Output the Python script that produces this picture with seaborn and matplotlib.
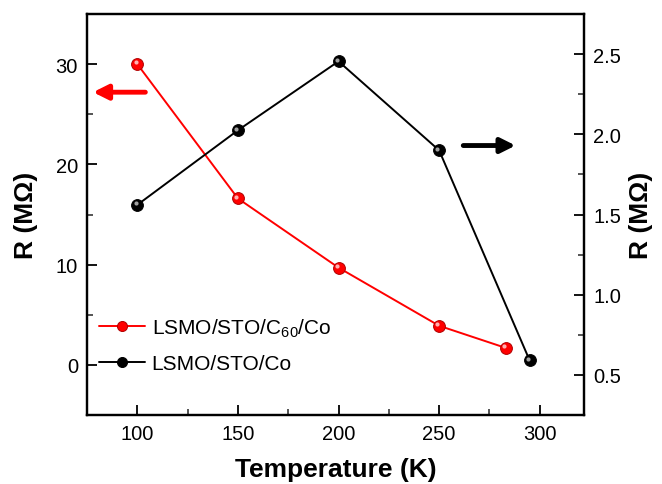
import matplotlib
matplotlib.use("Agg")
import matplotlib.pyplot as plt
from matplotlib.transforms import offset_copy
import seaborn as sns

# Resistance vs temperature for the two junction stacks
temp_c60 = [100, 150, 200, 250, 283]
r_c60 = [30.0, 16.6, 9.7, 3.9, 1.7]          # MΩ, left axis
temp_co = [100, 150, 200, 250, 295]
r_co = [1.56, 2.025, 2.455, 1.90, 0.59]      # MΩ, right axis
label_c60 = "LSMO/STO/C$_{60}$/Co"
label_co = "LSMO/STO/Co"
x_ticks = [100, 150, 200, 250, 300]
left_ticks = [0, 10, 20, 30]
right_ticks = [0.5, 1.0, 1.5, 2.0, 2.5]

sns.set_style("ticks")
plt.rcParams['font.family'] = ['Liberation Sans', 'DejaVu Sans']
plt.rcParams['mathtext.fontset'] = 'custom'
plt.rcParams['mathtext.rm'] = 'Liberation Sans'
plt.rcParams['mathtext.it'] = 'Liberation Sans:italic'
plt.rcParams['mathtext.bf'] = 'Liberation Sans:bold'
plt.rcParams['text.color'] = 'black'
plt.rcParams['axes.labelcolor'] = 'black'

W, H = 662, 485
fig = plt.figure(figsize=(W / 100, H / 100), dpi=100)
ax = fig.add_axes([87 / W, 1 - 416 / H, (584 - 87) / W, (416 - 15) / H])
ax2 = ax.twinx()

sns.lineplot(x=temp_c60, y=r_c60, ax=ax, color="red", marker="o",
             markersize=8.5, markeredgecolor="#b00000", markeredgewidth=0.7,
             linewidth=1.4, label=label_c60, legend=False)
sns.lineplot(x=temp_co, y=r_co, ax=ax2, color="black", marker="o",
             markersize=8.5, markeredgecolor="black", markeredgewidth=0.7,
             linewidth=1.4, label=label_co, legend=False)

# small specular highlight, nudged up-left, to give the markers a ball look
hl1 = offset_copy(ax.transData, fig=fig, x=-1.2, y=1.2, units="points")
hl2 = offset_copy(ax2.transData, fig=fig, x=-1.2, y=1.2, units="points")
ax.plot(temp_c60, r_c60, linestyle="none", marker="o", markersize=3,
        color="#ffb0b0", markeredgewidth=0, transform=hl1)
ax2.plot(temp_co, r_co, linestyle="none", marker="o", markersize=3,
         color="#a0a0a0", markeredgewidth=0, transform=hl2)

ax.set_xlim(75, 322)
ax.set_ylim(-5, 35)
ax2.set_ylim(0.25, 2.75)
ax.set_xticks(x_ticks)
ax.set_yticks(left_ticks)
ax2.set_yticks(right_ticks)
ax.set_xticks([125, 175, 225, 275], minor=True)
ax.set_yticks([5, 15, 25], minor=True)
ax2.set_yticks([0.75, 1.25, 1.75, 2.25], minor=True)

for a in (ax, ax2):
    for s in a.spines.values():
        s.set_linewidth(1.6)
        s.set_color("black")
    a.tick_params(which="major", length=7, width=1.3, direction="in",
                  labelsize=14.5, colors="black", pad=6.5)
    a.tick_params(which="minor", length=4, width=1.1, direction="in")
ax.tick_params(axis="y", right=False, which="both")
ax.tick_params(axis="x", top=False, which="both")
ax2.tick_params(axis="y", left=False, which="both")

ax.set_xlabel("Temperature (K)", fontsize=19, fontweight="bold", labelpad=10)
ax.set_ylabel("R (MΩ)", fontsize=19, fontweight="bold", labelpad=13)
ax2.set_ylabel("R (MΩ)", fontsize=19, fontweight="bold", labelpad=6)

# arrows pointing at the axis each curve belongs to
ax.annotate("", xy=(78, 27.2), xytext=(104, 27.2),
            arrowprops=dict(arrowstyle="-|>", lw=3.5, color="red",
                            mutation_scale=22, shrinkA=0, shrinkB=0))
ax2.annotate("", xy=(288, 1.93), xytext=(262, 1.93),
             arrowprops=dict(arrowstyle="-|>", lw=3.5, color="black",
                             mutation_scale=22, shrinkA=0, shrinkB=0))

h1, l1 = ax.get_legend_handles_labels()
h2, l2 = ax2.get_legend_handles_labels()
ax2.legend(h1[:1] + h2[:1], [label_c60, label_co], loc="lower left",
           bbox_to_anchor=(0.0, 0.073), frameon=False, fontsize=15,
           handlelength=2.2, handletextpad=0.3, labelspacing=0.75,
           borderaxespad=0.2, markerscale=0.85)

fig.savefig("out.png", dpi=100)
